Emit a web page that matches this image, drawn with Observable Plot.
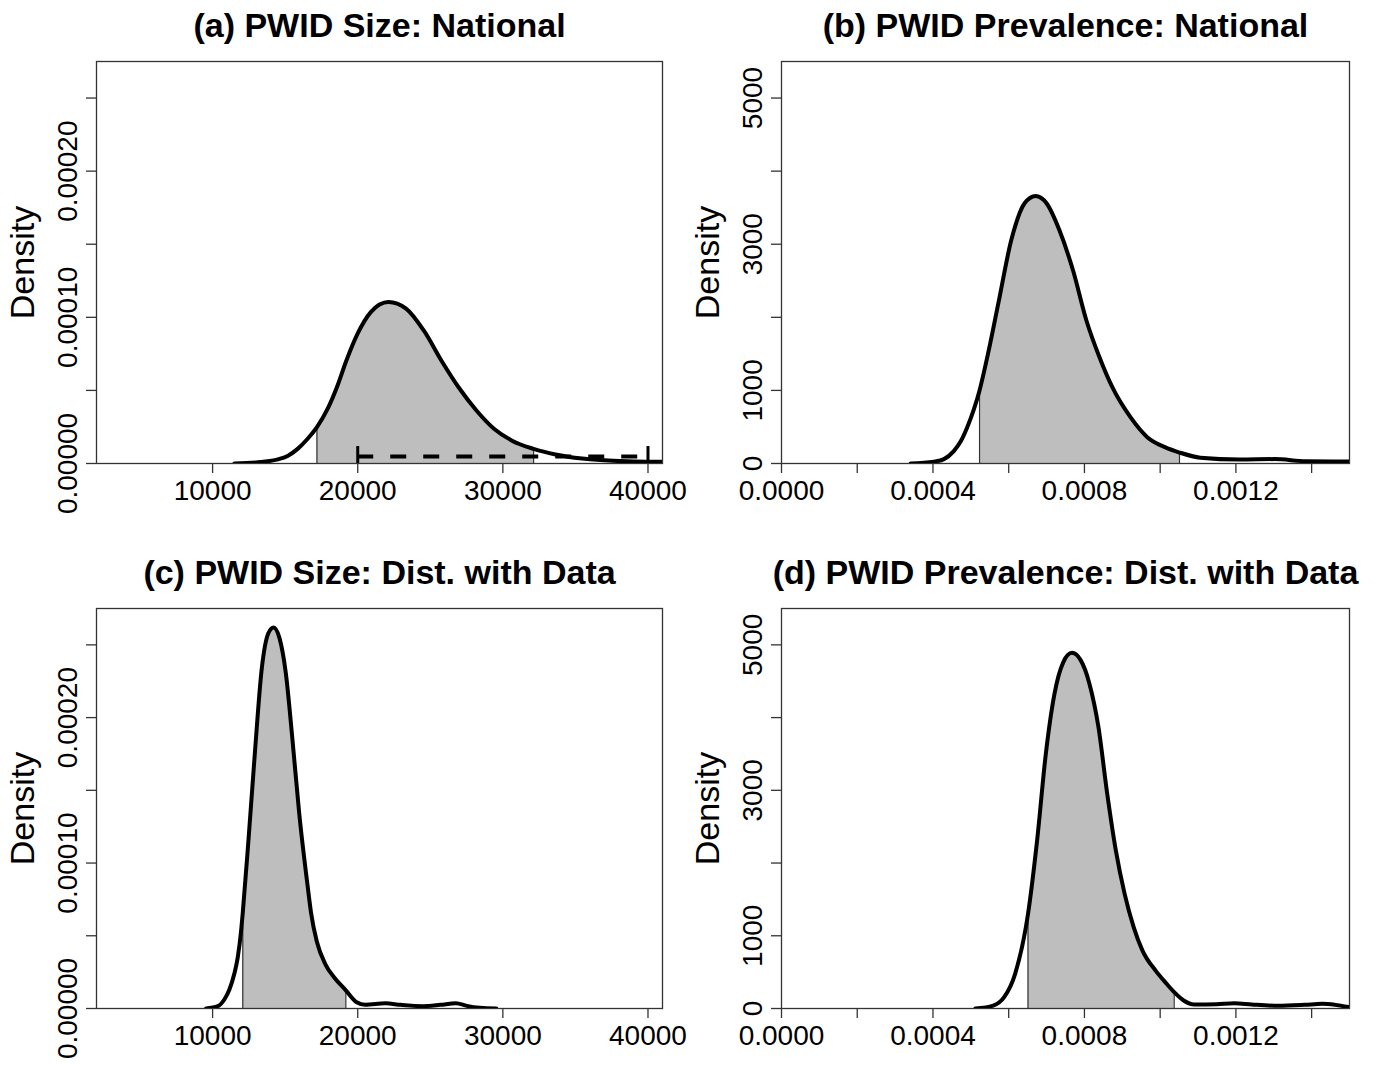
<!DOCTYPE html>
<html><head><meta charset="utf-8">
<script src="https://cdn.jsdelivr.net/npm/d3@7"></script>
<script src="https://cdn.jsdelivr.net/npm/@observablehq/plot@0.6"></script>
<style>
body{margin:0;background:#fff;}
#wrap{position:relative;width:1374px;height:1065px;overflow:hidden;background:#fff;}
.panel{position:absolute;}
</style></head><body><div id="wrap"></div>
<script>
// ---- titles ----
const titles = ["(a) PWID Size: National", "(b) PWID Prevalence: National",
                "(c) PWID Size: Dist. with Data", "(d) PWID Prevalence: Dist. with Data"];
const yAxisLabel = "Density";

// ---- axis ticks / labels ----
const sizeXTicks = [10000, 20000, 30000, 40000];
const sizeXLabels = ["10000", "20000", "30000", "40000"];
const sizeYTicks = [0, 0.00005, 0.0001, 0.00015, 0.0002, 0.00025];
const sizeYLabels = ["0.00000", "", "0.00010", "", "0.00020", ""];
const prevXTicks = [0, 0.0002, 0.0004, 0.0006, 0.0008, 0.0010, 0.0012, 0.0014];
const prevXLabels = ["0.0000", "", "0.0004", "", "0.0008", "", "0.0012", ""];
const prevYTicks = [0, 1000, 2000, 3000, 4000, 5000];
const prevYLabels = ["0", "1000", "", "3000", "", "5000"];

// ---- (a) PWID size, national ----
const aX = [11500, 13340, 14490, 15170, 15860, 16550, 17190, 17930, 18610, 19180, 20000, 20900, 22120, 23330, 24550, 25760, 26960, 28180, 29390, 30600, 32120, 33630, 35460, 37280, 39090, 41000];
const aY = [0, 1.0e-6, 2.8e-6, 5.2e-6, 1.0e-5, 1.69e-5, 2.49e-5, 3.75e-5, 5.34e-5, 6.94e-5, 8.9e-5, 1.036e-4, 1.105e-4, 1.06e-4, 9.1e-5, 7.05e-5, 5.2e-5, 3.63e-5, 2.38e-5, 1.58e-5, 1.0e-5, 6.2e-6, 3.4e-6, 2.0e-6, 1.4e-6, 1.2e-6];
const aShade = [17190, 32120];
const aInterval = [20000, 40000];   // dashed range
const aIntervalLevel = 4.8e-6;
const aCapTop = 1.16e-5;

// ---- (b) PWID prevalence, national ----
const bX = [0.000341, 0.000402, 0.000429, 0.000455, 0.000473, 0.00049, 0.000508, 0.000523, 0.000547, 0.000573, 0.000607, 0.000642, 0.000671, 0.0007, 0.000734, 0.00077, 0.000805, 0.00084, 0.000874, 0.000922, 0.000966, 0.001014, 0.001051, 0.001106, 0.001209, 0.001302, 0.001384, 0.0015];
const bY = [0, 25, 60, 170, 300, 490, 740, 1000, 1540, 2200, 3060, 3560, 3660, 3560, 3190, 2640, 1960, 1450, 1040, 630, 360, 220, 150, 80, 55, 60, 32, 27];
const bShade = [0.000523, 0.001051];

// ---- (c) PWID size, with data ----
const cX = [9550, 10360, 10810, 11160, 11500, 11730, 11960, 12080, 12480, 12930, 13380, 13840, 14200, 14600, 15040, 15510, 15970, 16550, 16780, 17180, 17790, 18410, 19180, 19930, 20520, 21900, 22960, 24480, 25690, 26760, 27520, 28420, 29550];
const cY = [0, 1.6e-6, 6.2e-6, 1.3e-5, 2.4e-5, 3.5e-5, 5.3e-5, 6.6e-5, 1.17e-4, 1.78e-4, 2.33e-4, 2.58e-4, 2.62e-4, 2.55e-4, 2.31e-4, 1.84e-4, 1.34e-4, 8.4e-5, 6.6e-5, 4.6e-5, 3.0e-5, 2.1e-5, 1.25e-5, 4.3e-6, 2.5e-6, 3.6e-6, 2.5e-6, 1.6e-6, 2.5e-6, 3.6e-6, 1.8e-6, 5e-7, 0];
const cShade = [12080, 19180];

// ---- (d) PWID prevalence, with data ----
const dX = [0.000512, 0.000559, 0.000588, 0.000617, 0.000651, 0.000675, 0.000698, 0.000721, 0.000744, 0.000767, 0.00079, 0.000813, 0.000837, 0.00086, 0.000883, 0.000906, 0.00093, 0.000953, 0.000988, 0.001017, 0.001037, 0.001062, 0.00109, 0.001149, 0.001196, 0.001242, 0.001311, 0.001381, 0.001428, 0.001462, 0.0015];
const dY = [0, 40, 155, 477, 1300, 2310, 3500, 4330, 4760, 4890, 4790, 4470, 3870, 2960, 2170, 1580, 1120, 800, 520, 340, 225, 110, 55, 60, 73, 55, 37, 50, 64, 50, 18];
const dShade = [0.000651, 0.001037];

const sizeXDomain = [2000, 41000];
const sizeYDomain = [0, 0.000275];
const prevXDomain = [0, 0.0015];
const prevYDomain = [0, 5500];

const FONT = "'Liberation Sans', Arial, Helvetica, sans-serif";
const BOX = "#333";

function lookup(ticks, labels) {
  return d => { const i = ticks.findIndex(t => Math.abs(t - d) < 1e-12); return i >= 0 ? labels[i] : ""; };
}

function panel(cfg) {
  const pts = cfg.xs.map((x, i) => ({x, y: cfg.ys[i]}));
  const shade = pts.filter(p => p.x >= cfg.shade[0] && p.x <= cfg.shade[1]);
  const edges = [shade[0], shade[shade.length - 1]];
  const yTickData = cfg.yTicks.map((t, i) => ({t, s: cfg.yLabels[i]})).filter(d => d.s !== "");
  const marks = [
    Plot.areaY(shade, {x: "x", y: "y", fill: "#bebebe", curve: "monotone-x"}),
    Plot.ruleX(edges, {x: "x", y1: 0, y2: "y", stroke: BOX, strokeWidth: 1.2}),
    Plot.frame({stroke: BOX, strokeWidth: 1.3}),
    Plot.axisX({ticks: cfg.xTicks, tickSize: 10, tickPadding: 7, fontSize: 28, label: null,
                tickFormat: lookup(cfg.xTicks, cfg.xLabels), stroke: BOX, strokeWidth: 1.3, fill: "black"}),
    Plot.axisY({ticks: cfg.yTicks, tickSize: 10, label: null, tickFormat: () => "", stroke: BOX, strokeWidth: 1.3}),
    Plot.text(yTickData, {y: "t", text: "s", frameAnchor: "left", dx: -20, rotate: -90,
                          textAnchor: "middle", lineAnchor: "bottom", fontSize: 28, fill: "black"}),
    Plot.text([yAxisLabel], {text: d => d, frameAnchor: "left", dx: -63, rotate: -90,
                             textAnchor: "middle", lineAnchor: "bottom", fontSize: 34, fill: "black"}),
    Plot.text([cfg.title], {text: d => d, frameAnchor: "top", dy: -35, lineAnchor: "middle",
                            fontSize: 34, fontWeight: "bold", fill: "black"})
  ];
  if (cfg.extra) marks.push(...cfg.extra);
  marks.push(Plot.line(pts, {x: "x", y: "y", stroke: "black", strokeWidth: 4, curve: "monotone-x", clip: true}));
  const svg = Plot.plot({
    width: cfg.width, height: cfg.height,
    marginLeft: cfg.ml, marginRight: cfg.mr, marginTop: cfg.mt, marginBottom: cfg.mb,
    x: {domain: cfg.xDomain, axis: null},
    y: {domain: cfg.yDomain, axis: null},
    style: {fontFamily: FONT, background: "white", overflow: "visible"},
    marks
  });
  const div = document.createElement("div");
  div.className = "panel";
  div.style.left = cfg.left + "px";
  div.style.top = cfg.top + "px";
  div.appendChild(svg);
  document.getElementById("wrap").appendChild(div);
}

const aExtra = [
  Plot.ruleY([aIntervalLevel], {x1: aInterval[0], x2: aInterval[1], stroke: "black", strokeWidth: 4, strokeDasharray: "16,17"}),
  Plot.ruleX(aInterval, {y1: 0, y2: aCapTop, stroke: "black", strokeWidth: 3})
];

panel({left: 0, top: 0, width: 687, height: 540, ml: 96, mr: 25, mt: 61, mb: 77,
       xs: aX, ys: aY, shade: aShade, title: titles[0], xDomain: sizeXDomain, yDomain: sizeYDomain,
       xTicks: sizeXTicks, xLabels: sizeXLabels, yTicks: sizeYTicks, yLabels: sizeYLabels, extra: aExtra});
panel({left: 687, top: 0, width: 687, height: 540, ml: 94, mr: 25, mt: 61, mb: 77,
       xs: bX, ys: bY, shade: bShade, title: titles[1], xDomain: prevXDomain, yDomain: prevYDomain,
       xTicks: prevXTicks, xLabels: prevXLabels, yTicks: prevYTicks, yLabels: prevYLabels});
panel({left: 0, top: 547, width: 687, height: 518, ml: 96, mr: 25, mt: 61, mb: 57,
       xs: cX, ys: cY, shade: cShade, title: titles[2], xDomain: sizeXDomain, yDomain: sizeYDomain,
       xTicks: sizeXTicks, xLabels: sizeXLabels, yTicks: sizeYTicks, yLabels: sizeYLabels});
panel({left: 687, top: 547, width: 687, height: 518, ml: 94, mr: 25, mt: 61, mb: 57,
       xs: dX, ys: dY, shade: dShade, title: titles[3], xDomain: prevXDomain, yDomain: prevYDomain,
       xTicks: prevXTicks, xLabels: prevXLabels, yTicks: prevYTicks, yLabels: prevYLabels});
</script>
</body></html>
